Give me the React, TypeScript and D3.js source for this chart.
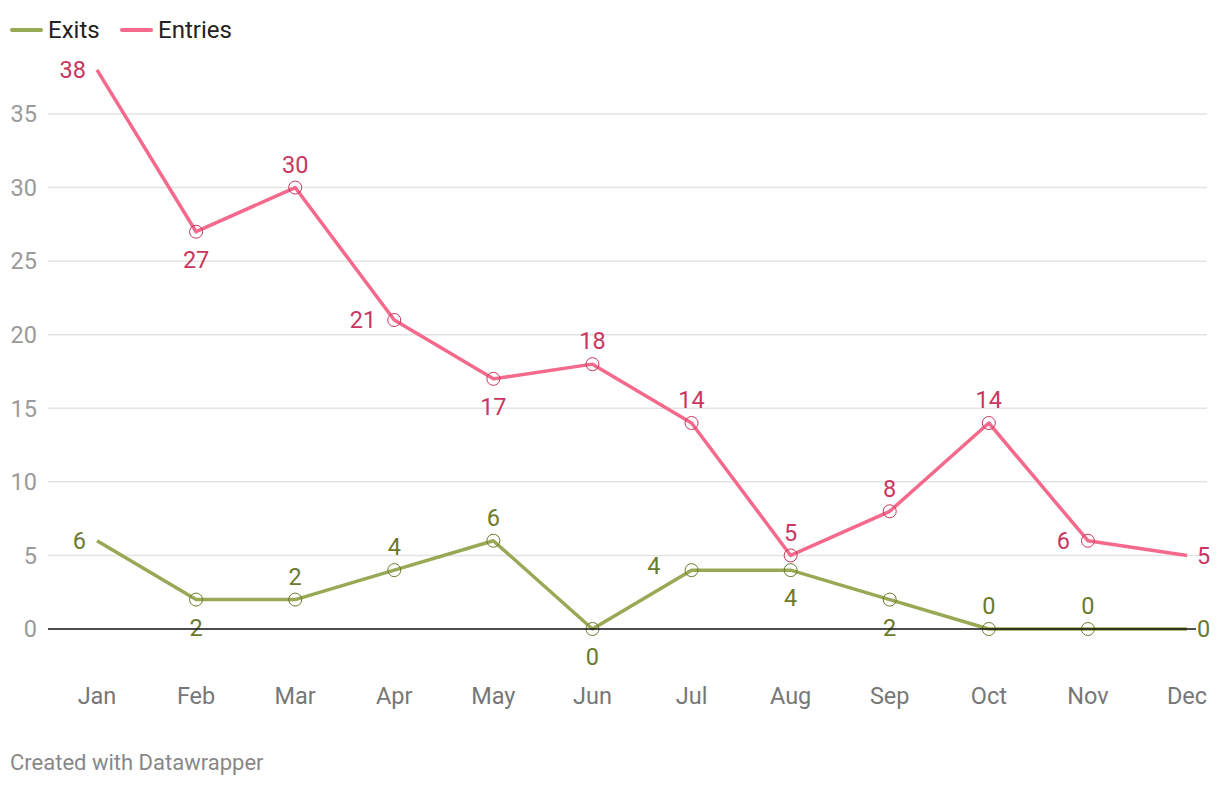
import React from "react";
import * as d3 from "d3";

const months = ["Jan", "Feb", "Mar", "Apr", "May", "Jun", "Jul", "Aug", "Sep", "Oct", "Nov", "Dec"];
const exits = [6, 2, 2, 4, 6, 0, 4, 4, 2, 0, 0, 0];
const entries = [38, 27, 30, 21, 17, 18, 14, 5, 8, 14, 6, 5];
const exitsLabelPos = ["left", "below", "above", "above", "above", "below", "farleft", "below", "below", "above", "above", "right"];
const entriesLabelPos = ["left", "below", "above", "left", "below", "above", "above", "above", "above", "above", "left", "right"];
const yTicks = [0, 5, 10, 15, 20, 25, 30, 35];

const W = 1220, H = 786;
const x = d3.scalePoint<string>().domain(months).range([97, 1187]);
const y = d3.scaleLinear().domain([0, 35]).range([629, 114]);

const FONT = "Roboto, sans-serif";

function Series({ data, pos, color, labelColor }: { data: number[]; pos: string[]; color: string; labelColor: string }) {
  const line = d3.line<number>().x((_, i) => x(months[i])!).y((d) => y(d));
  const last = data.length - 1;
  return (
    <g>
      <path d={line(data) || ""} fill="none" stroke={color} strokeWidth={3.5} strokeLinejoin="round" />
      {data.map((d, i) =>
        i > 0 && i < last ? (
          <circle key={"c" + i} cx={x(months[i])} cy={y(d)} r={6.5} fill="none" stroke={labelColor} strokeWidth={1} />
        ) : null
      )}
      {data.map((d, i) => {
        const cx = x(months[i])!;
        const cy = y(d);
        const p = pos[i];
        const edge = i === 0 || i === last;
        let tx = cx, ty = cy, anchor = "middle";
        if (p === "above") { ty = cy - 23; }
        else if (p === "below") { ty = cy + 28; }
        else if (p === "left") { tx = cx - (edge ? 11 : 18); anchor = "end"; }
        else if (p === "farleft") { tx = cx - 31; ty = cy - 4; anchor = "end"; }
        else if (p === "right") { tx = cx + 10; anchor = "start"; }
        return (
          <text key={"t" + i} x={tx} y={ty} dy="0.35em" textAnchor={anchor} fill={labelColor} fontSize={23.5} fontFamily={FONT}>
            {d}
          </text>
        );
      })}
    </g>
  );
}

export default function App() {
  return (
    <svg width={W} height={H} style={{ position: "absolute", left: 0, top: 0, background: "#fff" }}>
      <g fontFamily={FONT} fontSize={24} fill="#222">
        <line x1={12} x2={41} y1={30} y2={30} stroke="#98a955" strokeWidth={4} strokeLinecap="round" />
        <text x={48} y={30} dy="0.35em">Exits</text>
        <line x1={122} x2={151} y1={30} y2={30} stroke="#f4698c" strokeWidth={4} strokeLinecap="round" />
        <text x={158} y={30} dy="0.35em">Entries</text>
      </g>
      {yTicks.map((t) => (
        <g key={t}>
          {t !== 0 && <line x1={48} x2={1207} y1={y(t)} y2={y(t)} stroke="#e3e3e3" strokeWidth={1.5} />}
          <text x={37} y={y(t)} dy="0.35em" textAnchor="end" fill="#9a9a9a" fontSize={23.5} fontFamily={FONT}>{t}</text>
        </g>
      ))}
      {months.map((m) => (
        <text key={m} x={x(m)} y={696} dy="0.35em" textAnchor="middle" fill="#777" fontSize={23.5} fontFamily={FONT}>{m}</text>
      ))}
      <Series data={exits} pos={exitsLabelPos} color="#98a955" labelColor="#6b7a2b" />
      <line x1={48} x2={1196} y1={y(0)} y2={y(0)} stroke="#111" strokeWidth={1.5} />
      <Series data={entries} pos={entriesLabelPos} color="#f4698c" labelColor="#c9365f" />
      <text x={10} y={762} dy="0.35em" fill="#888" fontSize={22} fontFamily={FONT}>Created with Datawrapper</text>
    </svg>
  );
}
